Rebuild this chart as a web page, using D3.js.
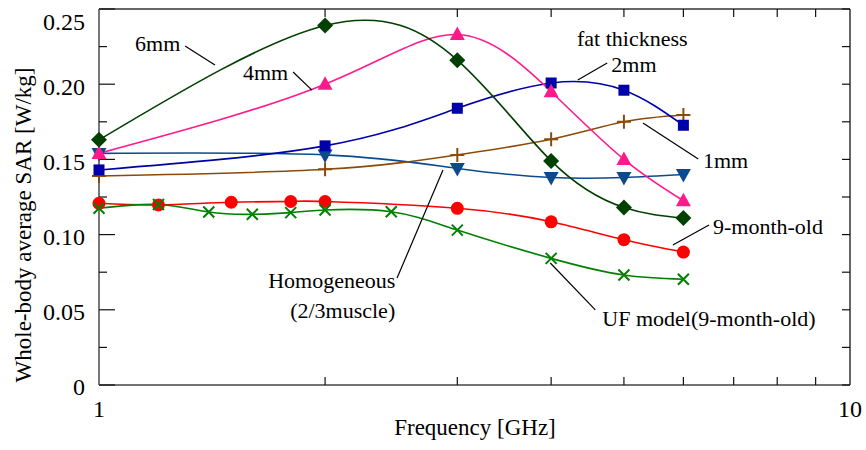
<!DOCTYPE html>
<html>
<head>
<meta charset="utf-8">
<script src="https://cdn.jsdelivr.net/npm/d3@7"></script>
<style>
  body { margin: 0; background: #fff; }
</style>
</head>
<body>
<svg id="grafico" width="866" height="450"></svg>
<script>
// frecuencias (GHz)
const freqMain = [1, 2, 3, 4, 5, 6];
const freq9mo = [1, 1.2, 1.5, 1.8, 2, 3, 4, 5, 6];
const freqUF = [1, 1.2, 1.4, 1.6, 1.8, 2, 2.45, 3, 4, 5, 6];

// SAR promedio [W/kg]
const sar6mm = [0.163, 0.239, 0.216, 0.149, 0.118, 0.111];
const sar4mm = [0.154, 0.200, 0.233, 0.195, 0.150, 0.1225];
const sar2mm = [0.143, 0.159, 0.184, 0.2008, 0.196, 0.1727];
const sar1mm = [0.139, 0.1434, 0.153, 0.1634, 0.175, 0.1795];
const sarHomog = [0.154, 0.153, 0.144, 0.138, 0.138, 0.140];
const sar9mo = [0.1208, 0.1197, 0.1215, 0.122, 0.122, 0.1175, 0.1085, 0.0966, 0.0884];
const sarUF = [0.1175, 0.120, 0.115, 0.1135, 0.1146, 0.1164, 0.1152, 0.103, 0.0842, 0.0731, 0.0703];

const yTicks = [0, 0.05, 0.10, 0.15, 0.20, 0.25];
const xTickLabels = [1, 10];

const series = [
    { f: freqMain, v: sarHomog, color: "#0d4a8c", marker: "trianglDown" },
    { f: freqMain, v: sar1mm, color: "#8b4a0a", marker: "plus" },
    { f: freqMain, v: sar2mm, color: "#0000a8", marker: "square" },
    { f: freqMain, v: sar4mm, color: "#ff1a8c", marker: "triangle" },
    { f: freqMain, v: sar6mm, color: "#004000", marker: "diamond" },
    { f: freq9mo, v: sar9mo, color: "#ff0000", marker: "circle" },
    { f: freqUF, v: sarUF, color: "#008000", marker: "cross" }
];

const fuente = "'Liberation Serif', 'Times New Roman', Times, Tinos, 'Nimbus Roman', 'Noto Serif', 'DejaVu Serif', serif";

const svg = d3.select("#grafico")
    .attr("font-family", fuente);

const margin = { top: 9, right: 16, bottom: 65, left: 99 };
const width = 866;
const height = 450;

const x = d3.scaleLog()
    .domain([1, 10])
    .range([margin.left, width - margin.right]);

const y = d3.scaleLinear()
    .domain([0, 0.25])
    .range([height - margin.bottom, margin.top]);

const x0 = x.range()[0], x1 = x.range()[1];
const y0 = y.range()[0], y1 = y.range()[1];

// marco
svg.append("line").attr("x1", x0).attr("x2", x1).attr("y1", y1).attr("y2", y1)
    .attr("stroke", "#333").attr("stroke-width", 1.5);
svg.append("line").attr("x1", x1).attr("x2", x1).attr("y1", y1).attr("y2", y0)
    .attr("stroke", "#333").attr("stroke-width", 1.5);
svg.append("line").attr("x1", x0).attr("x2", x1).attr("y1", y0).attr("y2", y0)
    .attr("stroke", "#444").attr("stroke-width", 1.5);
svg.append("line").attr("x1", x0).attr("x2", x0).attr("y1", y1).attr("y2", y0)
    .attr("stroke", "#777").attr("stroke-width", 2);

// ticks eje y
const yMinor = d3.range(0, 0.2501, 0.025);
yMinor.forEach((t, i) => {
    const len = i % 2 === 0 ? 16 : 8;
    svg.append("line")
        .attr("x1", x0).attr("x2", x0 + len)
        .attr("y1", y(t)).attr("y2", y(t))
        .attr("stroke", "#111").attr("stroke-width", 1.2);
    svg.append("line")
        .attr("x1", x1).attr("x2", x1 - 8)
        .attr("y1", y(t)).attr("y2", y(t))
        .attr("stroke", "#111").attr("stroke-width", 1.2);
});

svg.selectAll(".ylab")
    .data(yTicks)
    .enter()
    .append("text")
    .attr("x", x0 - 14)
    .attr("y", d => Math.max(y(d) + 2, 22))
    .attr("dy", "0.35em")
    .attr("text-anchor", "end")
    .attr("font-size", 24)
    .text(d => d === 0 ? "0" : d3.format(".2f")(d));

// ticks eje x
d3.range(2, 10).forEach(t => {
    svg.append("line")
        .attr("x1", x(t)).attr("x2", x(t))
        .attr("y1", y0).attr("y2", y0 - 8)
        .attr("stroke", "#111").attr("stroke-width", 1.2);
    svg.append("line")
        .attr("x1", x(t)).attr("x2", x(t))
        .attr("y1", y1).attr("y2", y1 + 8)
        .attr("stroke", "#111").attr("stroke-width", 1.2);
});

svg.selectAll(".xlab")
    .data(xTickLabels)
    .enter()
    .append("text")
    .attr("x", d => x(d))
    .attr("y", y0 + 32)
    .attr("text-anchor", "middle")
    .attr("font-size", 24)
    .text(d => d);

svg.append("text")
    .attr("x", 475)
    .attr("y", 435)
    .attr("text-anchor", "middle")
    .attr("font-size", 23)
    .text("Frequency [GHz]");

svg.append("text")
    .attr("transform", "rotate(-90)")
    .attr("x", -225)
    .attr("y", 31)
    .attr("text-anchor", "middle")
    .attr("font-size", 23)
    .text("Whole-body average SAR [W/kg]");

// curvas
const linea = d3.line()
    .x(d => x(d[0]))
    .y(d => y(d[1]))
    .curve(d3.curveNatural);

function dibujarMarcador(g, tipo, px, py, color) {
    if (tipo === "circle") {
        g.append("circle").attr("cx", px).attr("cy", py).attr("r", 6.5).attr("fill", color);
    } else if (tipo === "square") {
        g.append("rect").attr("x", px - 5.5).attr("y", py - 5.5)
            .attr("width", 11).attr("height", 11).attr("fill", color);
    } else if (tipo === "diamond") {
        g.append("path").attr("transform", `translate(${px},${py})`)
            .attr("d", "M0,-8L8,0L0,8L-8,0Z").attr("fill", color);
    } else if (tipo === "triangle") {
        g.append("path").attr("transform", `translate(${px},${py})`)
            .attr("d", "M0,-8L7.5,5.5L-7.5,5.5Z").attr("fill", color);
    } else if (tipo === "trianglDown") {
        g.append("path").attr("transform", `translate(${px},${py})`)
            .attr("d", "M0,8L7.5,-5.5L-7.5,-5.5Z").attr("fill", color);
    } else if (tipo === "plus") {
        g.append("path").attr("transform", `translate(${px},${py})`)
            .attr("d", "M-7,0H7M0,-7V7").attr("stroke", color).attr("stroke-width", 2);
    } else if (tipo === "cross") {
        g.append("path").attr("transform", `translate(${px},${py})`)
            .attr("d", "M-5.5,-5.5L5.5,5.5M-5.5,5.5L5.5,-5.5").attr("stroke", color).attr("stroke-width", 2);
    }
}

series.forEach(s => {
    const puntos = s.f.map((f, i) => [f, s.v[i]]);
    svg.append("path")
        .datum(puntos)
        .attr("d", linea)
        .attr("fill", "none")
        .attr("stroke", s.color)
        .attr("stroke-width", 1.6);
});

series.forEach(s => {
    const g = svg.append("g");
    s.f.forEach((f, i) => dibujarMarcador(g, s.marker, x(f), y(s.v[i]), s.color));
});

// etiquetas con lineas guia (coordenadas en GHz y W/kg)
const etiquetas = [
    { text: "6mm", f: 1.117, v: 0.2221, anchor: "start" },
    { text: "4mm", f: 1.555, v: 0.2028, anchor: "start" },
    { text: "fat thickness", f: 4.33, v: 0.2255, anchor: "start" },
    { text: "2mm", f: 4.81, v: 0.2080, anchor: "start" },
    { text: "1mm", f: 6.37, v: 0.1443, anchor: "start" },
    { text: "9-month-old", f: 6.57, v: 0.1004, anchor: "start" },
    { text: "UF model(9-month-old)", f: 4.68, v: 0.0392, anchor: "start" },
    { text: "Homogeneous", f: 2.48, v: 0.0645, anchor: "end" },
    { text: "(2/3muscle)", f: 2.48, v: 0.0445, anchor: "end" }
];

const guias = [
    [1.302, 0.2254, 1.427, 0.2128],
    [1.813, 0.2081, 1.921, 0.1961],
    [4.75, 0.2141, 4.34, 0.2028],
    [6.28, 0.1503, 5.30, 0.1742],
    [6.49, 0.1064, 5.81, 0.0931],
    [4.58, 0.0499, 3.99, 0.0811],
    [2.494, 0.0711, 2.871, 0.1430]
];

guias.forEach(g => {
    svg.append("line")
        .attr("x1", x(g[0])).attr("y1", y(g[1]))
        .attr("x2", x(g[2])).attr("y2", y(g[3]))
        .attr("stroke", "#000").attr("stroke-width", 1.2);
});

etiquetas.forEach(e => {
    svg.append("text")
        .attr("x", x(e.f))
        .attr("y", y(e.v))
        .attr("text-anchor", e.anchor)
        .attr("font-size", 22)
        .text(e.text);
});
</script>
</body>
</html>
